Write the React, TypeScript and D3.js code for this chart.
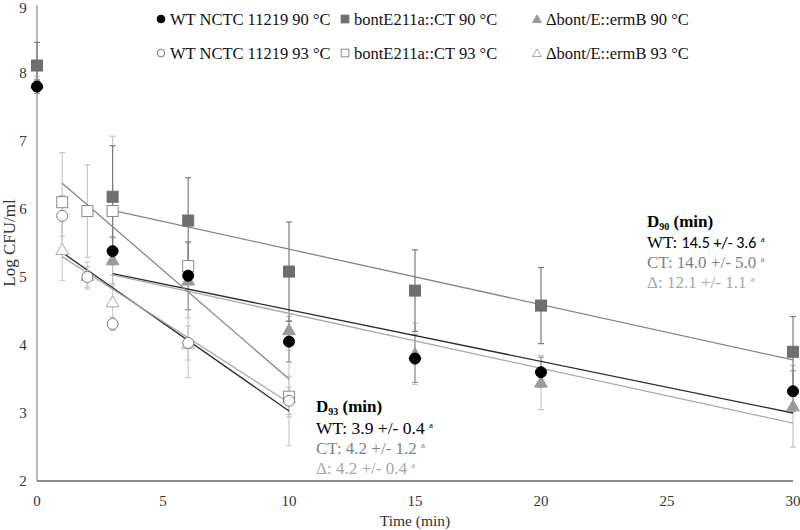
import * as d3 from 'd3';

const times90 = [0, 3, 6, 10, 15, 20, 30];
const times93 = [1, 2, 3, 6, 10];

const wt90 = [7.8, 5.38, 5.02, 4.05, 3.8, 3.6, 3.32];
const wt90Err = [0.1, 0.2, 0.5, 0.3, 0.35, 0.22, 0.3];
const ct90 = [8.11, 6.18, 5.83, 5.08, 4.8, 4.58, 3.9];
const ct90Err = [0.34, 0.75, 0.63, 0.73, 0.6, 0.56, 0.52];
const d90 = [7.85, 5.25, 4.95, 4.22, 3.87, 3.45, 3.1];
const d90Err = [0.1, 0.35, 0.55, 0.2, 0.45, 0.4, 0.6];

const wt93 = [5.9, 5.0, 4.31, 4.03, 3.18];
const wt93Err = [0.3, 0.15, 0.1, 0.25, 0.2];
const ct93 = [6.1, 5.97, 5.97, 5.16, 3.24];
const ct93Err = [0.73, 0.68, 1.1, 0.35, 0.3];
const d93 = [5.4, 5.02, 4.63, 4.02, 3.22];
const d93Err = [0.45, 0.2, 0.4, 0.5, 0.7];

// linear fits: [t start, log start, t end, log end]
const fitWt90 = [3, 5.05, 30, 3.0];
const fitCt90 = [3, 5.98, 30, 3.78];
const fitD90 = [3, 5.03, 30, 2.85];
const fitWt93 = [1, 5.36, 10, 3.03];
const fitCt93 = [1, 6.38, 10, 3.5];
const fitD93 = [1, 5.3, 10, 3.15];

const xTicks = [0, 5, 10, 15, 20, 25, 30];
const yTicks = [2, 3, 4, 5, 6, 7, 8, 9];

const serif = 'Liberation Serif, Times New Roman, serif';
const sans = 'Carlito, Open Sans, sans-serif';

const x = d3.scaleLinear().domain([0, 30]).range([37, 793]);
const y = d3.scaleLinear().domain([2, 9]).range([481, 5]);

type Series = {
  name: string;
  t: number[];
  v: number[];
  err: number[];
  shape: 'circle' | 'square' | 'triangle';
  fill: string;
  stroke: string;
  errColor: string;
  fit: number[];
  fitColor: string;
};

const series: Series[] = [
  { name: 'WT NCTC 11219 90 °C', t: times90, v: wt90, err: wt90Err, shape: 'circle', fill: '#000', stroke: '#000', errColor: '#9a9a9a', fit: fitWt90, fitColor: '#2a2a2a' },
  { name: 'bontE211a::CT 90 °C', t: times90, v: ct90, err: ct90Err, shape: 'square', fill: '#6e6e6e', stroke: '#6e6e6e', errColor: '#7a7a7a', fit: fitCt90, fitColor: '#858585' },
  { name: 'Δbont/E::ermB 90 °C', t: times90, v: d90, err: d90Err, shape: 'triangle', fill: '#9a9a9a', stroke: '#9a9a9a', errColor: '#c4c4c4', fit: fitD90, fitColor: '#a8a8a8' },
  { name: 'WT NCTC 11219 93 °C', t: times93, v: wt93, err: wt93Err, shape: 'circle', fill: '#fff', stroke: '#7a7a7a', errColor: '#c4c4c4', fit: fitWt93, fitColor: '#2a2a2a' },
  { name: 'bontE211a::CT 93 °C', t: times93, v: ct93, err: ct93Err, shape: 'square', fill: '#fff', stroke: '#8a8a8a', errColor: '#c8c8c8', fit: fitCt93, fitColor: '#858585' },
  { name: 'Δbont/E::ermB 93 °C', t: times93, v: d93, err: d93Err, shape: 'triangle', fill: '#fff', stroke: '#a8a8a8', errColor: '#cccccc', fit: fitD93, fitColor: '#a8a8a8' },
];

function Marker({ shape, cx, cy, fill, stroke, s = 1 }: { shape: string; cx: number; cy: number; fill: string; stroke: string; s?: number }) {
  if (shape === 'circle') {
    return <circle cx={cx} cy={cy} r={5.5 * s} fill={fill} stroke={stroke} strokeWidth={1} />;
  }
  if (shape === 'square') {
    const h = 5.5 * s;
    return <rect x={cx - h} y={cy - h} width={2 * h} height={2 * h} fill={fill} stroke={stroke} strokeWidth={1} />;
  }
  const sym = d3.symbol().type(d3.symbolTriangle).size(70 * s * s)();
  return <path d={sym || ''} transform={`translate(${cx},${cy + 1})`} fill={fill} stroke={stroke} strokeWidth={1} />;
}

// draw order: 93 bars behind 90 bars
const errOrder = [5, 4, 3, 2, 0, 1];

export default function App() {
  const legendCols = [161, 345, 537];
  const legendRows = [19, 53];

  return (
    <svg width={800} height={530} style={{ position: 'absolute', left: 0, top: 0 }} fontFamily={serif}>
      <rect width={800} height={530} fill="#fff" />

      {/* axes */}
      <line x1={x(0)} x2={x(0)} y1={y(9)} y2={y(2)} stroke="#8a8a8a" strokeWidth={1.2} />
      <line x1={x(0)} x2={x(30)} y1={y(2)} y2={y(2)} stroke="#8a8a8a" strokeWidth={2} />
      {yTicks.map((t) => (
        <text key={t} x={23} y={Math.max(y(t) + 5, 13)} textAnchor="middle" fontSize={15} fill="#333" fontFamily={serif}>{t}</text>
      ))}
      {xTicks.map((t) => (
        <text key={t} x={x(t)} y={506} textAnchor="middle" fontSize={15} fill="#333" fontFamily={serif}>{t}</text>
      ))}
      <text x={415} y={526} textAnchor="middle" fontSize={15.5} fill="#333" fontFamily={serif}>Time (min)</text>
      <text transform={`translate(15,243) rotate(-90)`} textAnchor="middle" fontSize={17} fill="#333" fontFamily={serif}>Log CFU/ml</text>

      {/* error bars */}
      {errOrder.map((si) => {
        const s = series[si];
        return (
          <g key={'e' + si} stroke={s.errColor} strokeWidth={1.2}>
            {s.t.map((t, i) => {
              const px = x(t);
              const top = y(s.v[i] + s.err[i]);
              const bot = y(s.v[i] - s.err[i]);
              return (
                <g key={i}>
                  <line x1={px} x2={px} y1={top} y2={bot} />
                  <line x1={px - 3} x2={px + 3} y1={top} y2={top} />
                  <line x1={px - 3} x2={px + 3} y1={bot} y2={bot} />
                </g>
              );
            })}
          </g>
        );
      })}

      {/* trend lines */}
      {series.map((s, si) => (
        <line key={'f' + si} x1={x(s.fit[0])} y1={y(s.fit[1])} x2={x(s.fit[2])} y2={y(s.fit[3])} stroke={s.fitColor} strokeWidth={1.3} />
      ))}

      {/* markers */}
      {[5, 4, 3, 2, 1, 0].map((si) => {
        const s = series[si];
        return (
          <g key={'m' + si}>
            {s.t.map((t, i) => (
              <Marker key={i} shape={s.shape} cx={x(t)} cy={y(s.v[i])} fill={s.fill} stroke={s.stroke} />
            ))}
          </g>
        );
      })}

      {/* legend */}
      {series.map((s, si) => {
        const col = legendCols[si % 3];
        const row = legendRows[Math.floor(si / 3)];
        return (
          <g key={'l' + si}>
            <Marker shape={s.shape} cx={col} cy={row} fill={s.fill} stroke={s.stroke} s={0.7} />
            <text x={col + 9} y={row + 6} fontSize={16.5} fill="#111" fontFamily={serif}>{s.name}</text>
          </g>
        );
      })}

      {/* D values */}
      <g fontSize={17} fontFamily={serif}>
        <text x={647} y={227} fontWeight="bold" fill="#000">D<tspan fontSize={10} dy={3}>90</tspan><tspan dy={-3}> (min)</tspan></text>
        <text x={647} y={248} fill="#000">WT: <tspan fontFamily={sans} fontSize={16}>14.5 +/- 3.6</tspan> <tspan fontSize={9} dy={-6}>a</tspan></text>
        <text x={647} y={268} fill="#7f7f7f">CT: 14.0 +/- 5.0 <tspan fontSize={9} dy={-6}>a</tspan></text>
        <text x={647} y={288} fill="#a6a6a6">Δ: 12.1 +/- 1.1 <tspan fontSize={9} dy={-6}>a</tspan></text>

        <text x={316} y={412} fontWeight="bold" fill="#000">D<tspan fontSize={10} dy={3}>93</tspan><tspan dy={-3}> (min)</tspan></text>
        <text x={316} y={434} fill="#000" fontSize={17.5}>WT: 3.9 +/- 0.4 <tspan fontSize={9} dy={-6}>a</tspan></text>
        <text x={316} y={454} fill="#7f7f7f">CT: 4.2 +/- 1.2 <tspan fontSize={9} dy={-6}>a</tspan></text>
        <text x={316} y={474} fill="#a6a6a6">Δ: 4.2 +/- 0.4 <tspan fontSize={9} dy={-6}>a</tspan></text>
      </g>
    </svg>
  );
}
